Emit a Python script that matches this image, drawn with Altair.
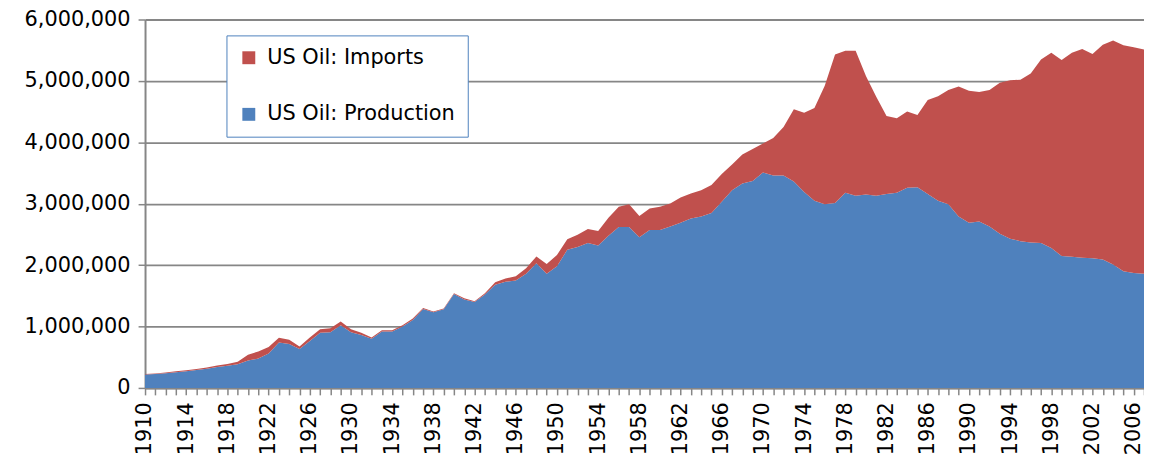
import altair as alt
import pandas as pd

years = list(range(1910, 2008))

# thousand barrels per year
production = [
    220000, 228000, 240000, 256000, 272000, 290000, 312000, 342000, 362000, 386000,
    445000, 478000, 562000, 738000, 716000, 635000, 765000, 900000, 905000, 1020000,
    905000, 860000, 802000, 920000, 920000, 1000000, 1105000, 1285000, 1232000, 1282000,
    1530000, 1440000, 1400000, 1520000, 1680000, 1730000, 1750000, 1860000, 2030000, 1860000,
    1980000, 2250000, 2295000, 2360000, 2320000, 2480000, 2620000, 2620000, 2455000, 2570000,
    2570000, 2630000, 2690000, 2760000, 2790000, 2850000, 3030000, 3220000, 3330000, 3370000,
    3510000, 3460000, 3460000, 3360000, 3190000, 3050000, 2990000, 3010000, 3180000, 3130000,
    3150000, 3130000, 3160000, 3180000, 3260000, 3270000, 3160000, 3050000, 2990000, 2790000,
    2690000, 2710000, 2630000, 2510000, 2430000, 2390000, 2370000, 2360000, 2280000, 2150000,
    2135000, 2120000, 2110000, 2090000, 2010000, 1900000, 1870000, 1860000,
]
imports = [
    5000, 8000, 12000, 14000, 16000, 16000, 20000, 24000, 28000, 40000,
    95000, 115000, 105000, 80000, 70000, 40000, 55000, 55000, 65000, 60000,
    50000, 40000, 20000, 20000, 20000, 20000, 25000, 15000, 12000, 12000,
    12000, 20000, 12000, 20000, 40000, 50000, 70000, 90000, 110000, 160000,
    185000, 170000, 200000, 230000, 235000, 290000, 330000, 370000, 345000, 350000,
    380000, 375000, 410000, 405000, 430000, 455000, 455000, 420000, 470000, 520000,
    470000, 610000, 790000, 1180000, 1290000, 1510000, 1930000, 2420000, 2310000, 2360000,
    1930000, 1610000, 1270000, 1210000, 1240000, 1175000, 1530000, 1700000, 1860000, 2120000,
    2150000, 2110000, 2220000, 2460000, 2580000, 2630000, 2750000, 2990000, 3180000, 3190000,
    3325000, 3400000, 3330000, 3500000, 3650000, 3680000, 3680000, 3650000,
]

series_names = ["US Oil: Imports", "US Oil: Production"]
series_colors = ["#C0504D", "#4F81BD"]
y_ticks = [0, 1000000, 2000000, 3000000, 4000000, 5000000, 6000000]

rows = []
for yr, p, i in zip(years, production, imports):
    rows.append({"Year": yr, "Series": "US Oil: Production", "Value": p, "Order": 0})
    rows.append({"Year": yr, "Series": "US Oil: Imports", "Value": i, "Order": 1})
df = pd.DataFrame(rows)

FONT = "DejaVu Sans"
FS = 21
GRAY = "#868686"

chart = (
    alt.Chart(df)
    .mark_area(interpolate="linear", opacity=1)
    .encode(
        x=alt.X(
            "Year:Q",
            scale=alt.Scale(domain=[1910, 2007], nice=False, zero=False),
            axis=alt.Axis(
                values=years,
                labelExpr="(datum.value - 1910) % 4 == 0 ? datum.value : ''",
                labelAngle=-90,
                labelOverlap=False,
                labelFlush=False,
                labelFont=FONT,
                labelFontSize=FS,
                labelColor="black",
                labelPadding=7,
                tickSize=7,
                tickColor=GRAY,
                tickWidth=1.5,
                domainColor=GRAY,
                domainWidth=2,
                grid=False,
                title=None,
            ),
        ),
        y=alt.Y(
            "Value:Q",
            stack="zero",
            scale=alt.Scale(domain=[0, 6000000], nice=False),
            axis=alt.Axis(
                values=y_ticks,
                format=",d",
                labelFont=FONT,
                labelFontSize=FS,
                labelColor="black",
                labelPadding=8,
                tickSize=7,
                tickColor=GRAY,
                tickWidth=1.5,
                domainColor=GRAY,
                domainWidth=2,
                grid=True,
                gridColor=GRAY,
                gridWidth=1.8,
                title=None,
            ),
        ),
        color=alt.Color(
            "Series:N",
            scale=alt.Scale(domain=series_names, range=series_colors),
            legend=alt.Legend(
                title=None,
                orient="none",
                legendX=82,
                legendY=16,
                direction="vertical",
                fillColor="white",
                strokeColor="#4F81BD",
                padding=12,
                symbolType="square",
                symbolSize=169,
                symbolStrokeWidth=0,
                symbolOpacity=1,
                labelFont=FONT,
                labelFontSize=FS,
                labelColor="black",
                labelOffset=8,
                labelLimit=400,
                rowPadding=35,
            ),
        ),
        order=alt.Order("Order:Q", sort="ascending"),
    )
    .properties(
        width=1006,
        height=371,
        autosize=alt.AutoSizeParams(type="none"),
        padding={"left": 138, "top": 10, "right": 0, "bottom": 70},
    )
    .configure_view(strokeWidth=0)
    .configure(background="white")
)

chart.save("out.html", embed_options={"renderer": "svg", "actions": False})
